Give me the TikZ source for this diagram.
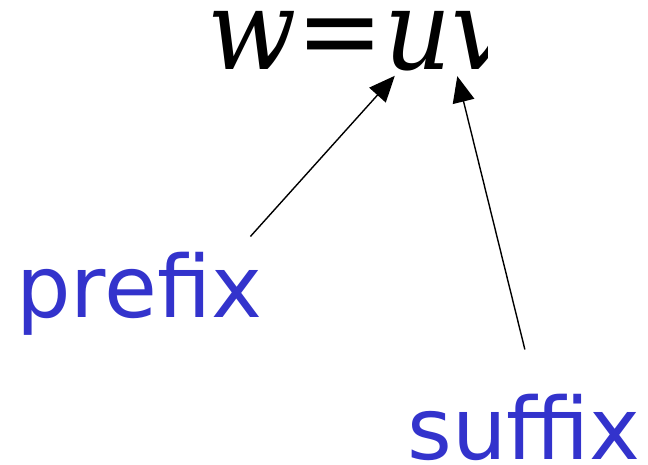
\documentclass[tikz,border=0pt]{standalone}
\usepackage{fontspec}
\setmainfont{DejaVu Sans}
\newfontfamily\eqfont{DejaVu Serif}[FakeStretch=0.93]
\usetikzlibrary{arrows.meta,positioning}

\begin{document}
\begin{tikzpicture}[x=1pt,y=1pt]
  \tikzset{eqtext/.style={inner sep=0pt,anchor=base west,font=\eqfont\itshape\fontsize{112}{112}\selectfont},
           label/.style={inner sep=0pt,anchor=base west,text={rgb,255:red,51;green,51;blue,204},
                         font=\fontsize{86}{86}\selectfont},
           pointer/.style={-{Triangle[length=26pt,width=22pt]},line width=1.4pt}}
  \useasboundingbox (0,0) rectangle (648,465);

 % the word, cut at the right
  \begin{scope}
    \clip (0,300) rectangle (487,465);
    \node[eqtext] (w) at (207,395) {w=};
    \node[eqtext,right=0pt of w.base east,anchor=base west] (u) {u};
    \node[eqtext,right=0pt of u.base east,anchor=base west] (v) {v};
  \end{scope}

 % labels
  \node[label] (prefix) at (16,147) {prefix};
  \node[label] (suffix) at (407,5) {suffix};

 % pointers
  \draw[pointer] ([shift={(-12,16)}]prefix.north east) -- ([shift={(11,-4)}]u.south west);
  \draw[pointer] ([shift={(1,45)}]suffix.north) -- ([shift={(6,-6)}]v.south west);
\end{tikzpicture}
\end{document}
